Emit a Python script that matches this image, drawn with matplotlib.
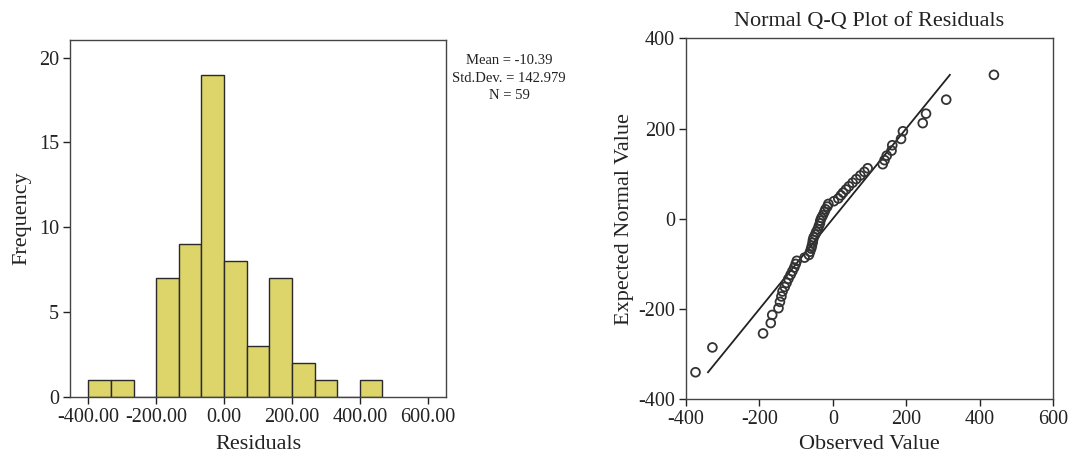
import numpy as np
import matplotlib
matplotlib.use("Agg")
import matplotlib.pyplot as plt

# ---- data ----
bin_start = -400.0
bin_width = 200.0 / 3.0
hist_counts = [1, 1, 0, 7, 9, 19, 8, 3, 7, 2, 1, 0, 1]
hist_xticks = [-400, -200, 0, 200, 400, 600]
hist_xticklabels = ["-400.00", "-200.00", "0.00", "200.00", "400.00", "600.00"]
hist_yticks = [0, 5, 10, 15, 20]
stats_lines = ["Mean = -10.39", "Std.Dev. = 142.979", "N = 59"]

observed = [-374, -328, -190, -169, -165, -148, -144, -140, -137,
            -131, -126, -121, -115, -110, -105, -101, -98, -77,
            -65, -62, -59, -57, -55, -54, -52, -48, -45, -41, -38, -35, -34,
            -31, -27, -23, -20, -15, -12,
            3, 15, 22, 28, 36, 44, 54, 64,
            75, 86, 95,
            136, 141, 147, 160, 162, 186, 191,
            245, 254, 309, 439]
expected = [-340, -285, -254, -231, -213, -198, -184, -172, -161,
            -151, -142, -133, -124, -116, -108, -100, -93, -86,
            -80, -73, -66, -60, -53, -47, -41, -35, -29, -23, -16, -10, -4,
            2, 8, 15, 21, 27, 33,
            39, 45, 52, 58, 65, 72, 80, 88,
            96, 104, 112,
            121, 130, 140, 151, 163, 177, 194,
            212, 233, 264, 319]
qq_ticks = [-400, -200, 0, 200, 400, 600]
qq_yticks = [-400, -200, 0, 200, 400]

# ---- style ----
plt.rcParams['font.family'] = ['Liberation Serif', 'DejaVu Serif']
plt.rcParams['axes.unicode_minus'] = False
ink = '#222222'
spine_c = '#444444'
bar_c = '#DDD46A'
TICK = 14.5
LAB = 16

fig = plt.figure(figsize=(10.72, 4.58), dpi=100)

# Histogram
ax1 = fig.add_axes([0.0653, 0.1332, 0.3507, 0.7795])
lefts = bin_start + bin_width * np.arange(len(hist_counts))
ax1.bar(lefts, hist_counts, width=bin_width, align='edge',
        color=bar_c, edgecolor='#2a2a2a', linewidth=1.0)
ax1.set_xlim(-454, 654)
ax1.set_ylim(0, 21.04)
ax1.set_xticks(hist_xticks)
ax1.set_xticklabels(hist_xticklabels)
ax1.set_yticks(hist_yticks)
ax1.set_xlabel("Residuals", fontsize=LAB, color=ink, labelpad=6)
ax1.set_ylabel("Frequency", fontsize=LAB, color=ink, labelpad=5)
ax1.tick_params(labelsize=TICK, colors=ink, length=5, width=1, direction='out', pad=3)
for s in ax1.spines.values():
    s.set_color(spine_c)
    s.set_linewidth(1.0)
fig.text(509 / 1072, 1 - 54 / 458, "\n".join(stats_lines), ha='center', va='top',
         fontsize=10.5, color=ink, linespacing=1.45, multialignment='center')

# Q-Q plot
ax2 = fig.add_axes([0.6399, 0.1281, 0.3424, 0.7883])
ax2.scatter(observed, expected, s=40, facecolors='none', edgecolors='#333333',
            linewidths=1.3, zorder=3)
lo, hi = min(expected), max(expected)
ax2.plot([lo, hi], [lo, hi], color=ink, linewidth=1.3, zorder=2)
ax2.set_xlim(-400, 600)
ax2.set_ylim(-400, 400)
ax2.set_xticks(qq_ticks)
ax2.set_yticks(qq_yticks)
ax2.set_xlabel("Observed Value", fontsize=LAB, color=ink, labelpad=4)
ax2.set_ylabel("Expected Normal Value", fontsize=LAB, color=ink, labelpad=3)
ax2.set_title("Normal Q-Q Plot of Residuals", fontsize=16, color=ink, pad=9)
ax2.tick_params(labelsize=TICK, colors=ink, length=5, width=1, direction='out', pad=3)
for s in ax2.spines.values():
    s.set_color(spine_c)
    s.set_linewidth(1.0)

fig.savefig("out.png", dpi=100)
